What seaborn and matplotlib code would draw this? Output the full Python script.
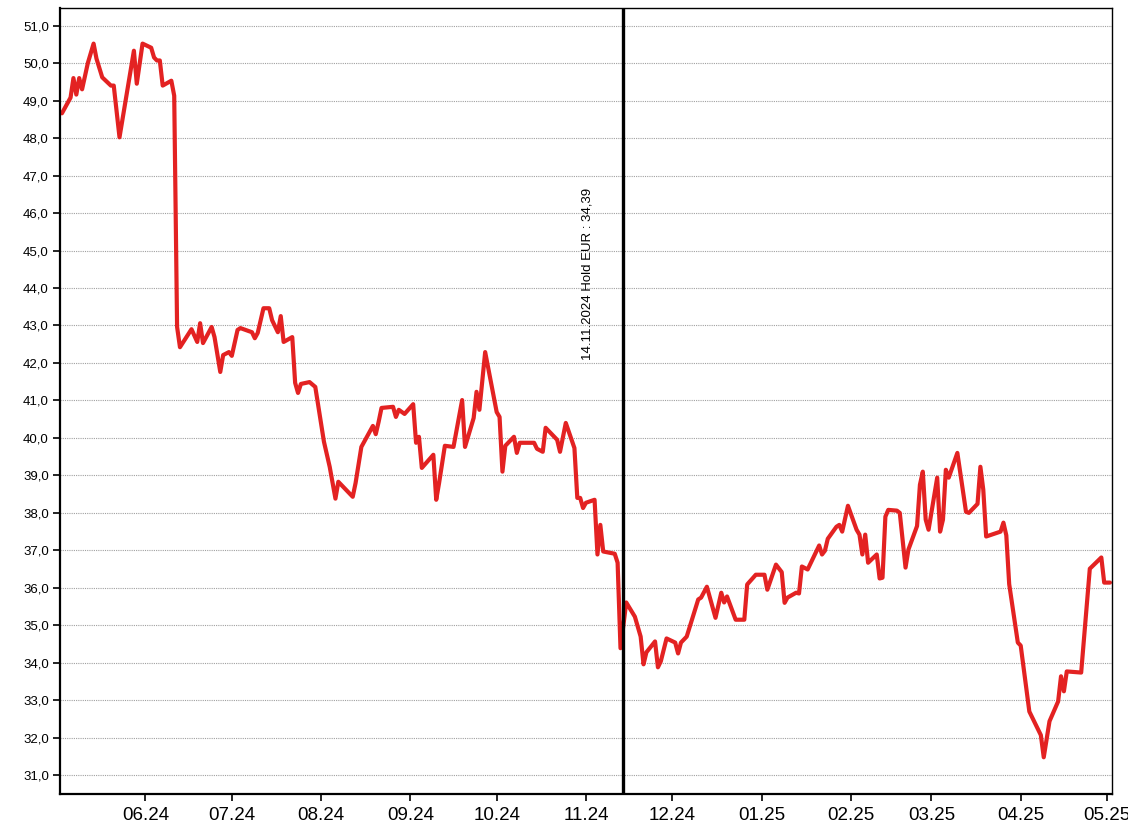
import pandas as pd
import matplotlib
matplotlib.use("Agg")
import matplotlib.pyplot as plt
import matplotlib.dates as mdates
from matplotlib.ticker import FuncFormatter
import seaborn as sns

# Kursdaten
dates = [
    "2024-05-03", "2024-05-06", "2024-05-07", "2024-05-08", "2024-05-09", "2024-05-10",
    "2024-05-12", "2024-05-14", "2024-05-15", "2024-05-17", "2024-05-20", "2024-05-21",
    "2024-05-23", "2024-05-28", "2024-05-29", "2024-05-31", "2024-06-03", "2024-06-04",
    "2024-06-05", "2024-06-06", "2024-06-07", "2024-06-10", "2024-06-11", "2024-06-12",
    "2024-06-13", "2024-06-17", "2024-06-19", "2024-06-20", "2024-06-21", "2024-06-24",
    "2024-06-25", "2024-06-27", "2024-06-28", "2024-06-30", "2024-07-01", "2024-07-03",
    "2024-07-04", "2024-07-08", "2024-07-09", "2024-07-10", "2024-07-12", "2024-07-14",
    "2024-07-15", "2024-07-17", "2024-07-18", "2024-07-19", "2024-07-22", "2024-07-23",
    "2024-07-24", "2024-07-25", "2024-07-28", "2024-07-30", "2024-08-02", "2024-08-04",
    "2024-08-06", "2024-08-07", "2024-08-12", "2024-08-13", "2024-08-15", "2024-08-19",
    "2024-08-20", "2024-08-21", "2024-08-22", "2024-08-26", "2024-08-27", "2024-08-28",
    "2024-08-30", "2024-09-02", "2024-09-03", "2024-09-04", "2024-09-05", "2024-09-09",
    "2024-09-10", "2024-09-11", "2024-09-13", "2024-09-16", "2024-09-19", "2024-09-20",
    "2024-09-23", "2024-09-24", "2024-09-25", "2024-09-27", "2024-10-01", "2024-10-02",
    "2024-10-03", "2024-10-04", "2024-10-07", "2024-10-08", "2024-10-09", "2024-10-14",
    "2024-10-15", "2024-10-17", "2024-10-18", "2024-10-22", "2024-10-23", "2024-10-25",
    "2024-10-28", "2024-10-29", "2024-10-30", "2024-10-31", "2024-11-01", "2024-11-04",
    "2024-11-05", "2024-11-06", "2024-11-07", "2024-11-11", "2024-11-12", "2024-11-13",
    "2024-11-15", "2024-11-18", "2024-11-20", "2024-11-21", "2024-11-22", "2024-11-25",
    "2024-11-26", "2024-11-27", "2024-11-29", "2024-12-02", "2024-12-03", "2024-12-04",
    "2024-12-06", "2024-12-10", "2024-12-11", "2024-12-13", "2024-12-16", "2024-12-18",
    "2024-12-19", "2024-12-20", "2024-12-23", "2024-12-26", "2024-12-27", "2024-12-30",
    "2025-01-02", "2025-01-03", "2025-01-06", "2025-01-08", "2025-01-09", "2025-01-10",
    "2025-01-13", "2025-01-14", "2025-01-15", "2025-01-17", "2025-01-21", "2025-01-22",
    "2025-01-23", "2025-01-24", "2025-01-27", "2025-01-28", "2025-01-29", "2025-01-31",
    "2025-02-03", "2025-02-04", "2025-02-05", "2025-02-06", "2025-02-07", "2025-02-10",
    "2025-02-11", "2025-02-12", "2025-02-13", "2025-02-14", "2025-02-17", "2025-02-18",
    "2025-02-20", "2025-02-21", "2025-02-24", "2025-02-25", "2025-02-26", "2025-02-27",
    "2025-02-28", "2025-03-03", "2025-03-04", "2025-03-05", "2025-03-06", "2025-03-07",
    "2025-03-10", "2025-03-13", "2025-03-14", "2025-03-17", "2025-03-18", "2025-03-19",
    "2025-03-20", "2025-03-25", "2025-03-26", "2025-03-27", "2025-03-28", "2025-03-31",
    "2025-04-01", "2025-04-04", "2025-04-08", "2025-04-09", "2025-04-11", "2025-04-14",
    "2025-04-15", "2025-04-16", "2025-04-17", "2025-04-22", "2025-04-25", "2025-04-29",
    "2025-04-30", "2025-05-02",
]
prices = [
    48.66, 49.08, 49.60, 49.16, 49.60, 49.30,
    50.00, 50.52, 50.12, 49.62, 49.40, 49.40,
    48.02, 50.33, 49.45, 50.52, 50.41, 50.15,
    50.07, 50.07, 49.40, 49.53, 49.13, 42.96,
    42.42, 42.90, 42.56, 43.06, 42.53, 42.96,
    42.69, 41.76, 42.21, 42.29, 42.19, 42.88,
    42.93, 42.82, 42.66, 42.80, 43.46, 43.46,
    43.14, 42.82, 43.25, 42.56, 42.69, 41.47,
    41.20, 41.44, 41.49, 41.36, 39.90, 39.23,
    38.38, 38.83, 38.43, 38.80, 39.76, 40.32,
    40.10, 40.43, 40.80, 40.83, 40.56, 40.75,
    40.64, 40.90, 39.87, 40.03, 39.20, 39.55,
    38.35, 38.80, 39.79, 39.76, 41.01, 39.76,
    40.53, 41.23, 40.75, 42.29, 40.69, 40.56,
    39.10, 39.79, 40.03, 39.60, 39.87, 39.87,
    39.71, 39.63, 40.27, 39.95, 39.63, 40.40,
    39.73, 38.40, 38.40, 38.13, 38.27, 38.35,
    36.89, 37.68, 36.97, 36.91, 36.67, 34.39,
    35.61, 35.23, 34.70, 33.96, 34.28, 34.57,
    33.88, 34.04, 34.65, 34.54, 34.25, 34.54,
    34.70, 35.69, 35.74, 36.03, 35.20, 35.87,
    35.61, 35.77, 35.15, 35.15, 36.09, 36.35,
    36.35, 35.95, 36.62, 36.42, 35.60, 35.74,
    35.87, 35.85, 36.57, 36.49, 37.13, 36.89,
    36.99, 37.31, 37.63, 37.68, 37.50, 38.19,
    37.55, 37.42, 36.89, 37.42, 36.67, 36.89,
    36.25, 36.27, 37.90, 38.08, 38.06, 38.00,
    36.54, 37.02, 37.65, 38.75, 39.10, 37.82,
    37.55, 38.94, 37.50, 37.82, 39.15, 38.94,
    39.60, 38.03, 38.00, 38.24, 39.23, 38.62,
    37.37, 37.50, 37.74, 37.40, 36.10, 34.54,
    34.46, 32.70, 32.07, 31.48, 32.44, 32.97,
    33.64, 33.24, 33.77, 33.74, 36.51, 36.81,
    36.14, 36.14,
]

marker_date = "2024-11-14"
marker_text = "14.11.2024 Hold EUR : 34,39"

df = pd.DataFrame({"date": pd.to_datetime(dates), "price": prices})

sns.set_style("white")
plt.rcParams["font.family"] = ["Liberation Sans", "DejaVu Sans"]

fig = plt.figure(figsize=(11.28, 8.36), dpi=100)
ax = fig.add_axes([60 / 1128, 1 - 794 / 836, (1112 - 60) / 1128, (794 - 8) / 836])

sns.lineplot(data=df, x="date", y="price", ax=ax, color="#e32222", linewidth=3.0)

# Markierung Hold
ax.axvline(pd.Timestamp(marker_date), color="black", linewidth=2.4, zorder=5)
ax.annotate(marker_text, (pd.Timestamp(marker_date), 42.08), xytext=(-30, 0),
            textcoords="offset pixels", rotation=90, ha="right", va="bottom",
            fontsize=9.5, color="black")

ax.set_xlim(pd.Timestamp("2024-05-02 08:00"), pd.Timestamp("2025-05-02 17:00"))
ax.set_ylim(30.5, 51.47)
ax.set_yticks(range(31, 52))
ax.yaxis.set_major_formatter(FuncFormatter(lambda v, p: f"{v:.1f}".replace(".", ",")))
ax.xaxis.set_major_locator(mdates.MonthLocator())
ax.xaxis.set_major_formatter(mdates.DateFormatter("%m.%y"))

ax.grid(axis="y", color="#a0a0a0", linestyle=(0, (1, 1)), linewidth=0.8)
ax.grid(axis="x", visible=False)
ax.set_xlabel("")
ax.set_ylabel("")

for s in ax.spines.values():
    s.set_color("black")
    s.set_linewidth(1.0)
ax.spines["left"].set_linewidth(1.6)
ax.spines["bottom"].set_linewidth(1.6)

ax.tick_params(axis="y", direction="out", length=5, width=1.2, labelsize=9.5, pad=3,
               left=True, colors="black")
ax.tick_params(axis="x", direction="out", length=5, width=1.2, labelsize=13.5, pad=4,
               bottom=True, colors="black")

plt.savefig("out.png", dpi=100)
